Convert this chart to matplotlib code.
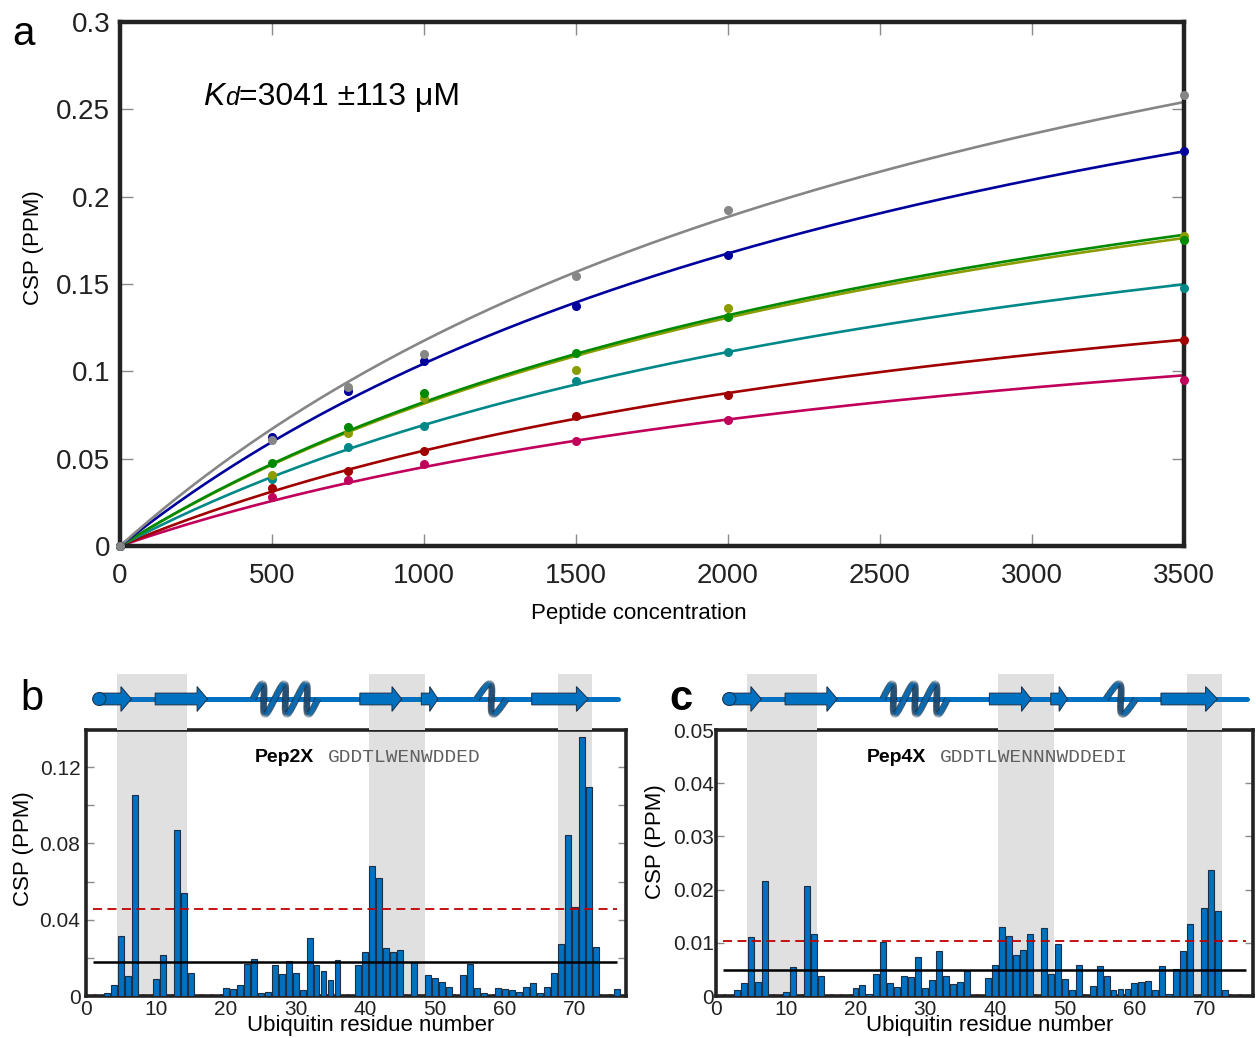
import numpy as np
import matplotlib
matplotlib.use("Agg")
import matplotlib.pyplot as plt
from matplotlib.patches import Polygon, Ellipse
from matplotlib.collections import LineCollection
import matplotlib.patheffects as pe

plt.rcParams['font.family'] = ['Liberation Sans', 'DejaVu Sans']

# ---- panel a: titration data ----
conc = [0, 500, 750, 1000, 1500, 2000, 3500]
csp_gray = [0, 0.0608, 0.0910, 0.1099, 0.1544, 0.1924, 0.2580]
csp_blue = [0, 0.0623, 0.0885, 0.1057, 0.1376, 0.1668, 0.2259]
csp_green = [0, 0.0474, 0.0683, 0.0878, 0.1105, 0.1311, 0.1753]
csp_olive = [0, 0.0407, 0.0646, 0.0847, 0.1006, 0.1362, 0.1772]
csp_teal = [0, 0.0384, 0.0566, 0.0688, 0.0946, 0.1110, 0.1479]
csp_red = [0, 0.0331, 0.0430, 0.0545, 0.0742, 0.0866, 0.1181]
csp_magenta = [0, 0.0283, 0.0379, 0.0470, 0.0602, 0.0723, 0.0952]
kd = 3041
fit_bmax = [0.1826, 0.2207, 0.280, 0.3295, 0.333, 0.4222, 0.475]
series = [csp_magenta, csp_red, csp_teal, csp_olive, csp_green, csp_blue, csp_gray]
colors = ['#c0005a', '#a00000', '#008888', '#8a9c00', '#008a00', '#00009c', '#868686']

# ---- panels b, c: CSP per residue ----
residues = list(range(1, 77))
csp_pep2x = [0, 0, 0.0015, 0.0058, 0.0317, 0.0106, 0.1056, 0, 0, 0.0088,
             0.0213, 0, 0.0871, 0.0540, 0.0120, 0, 0, 0, 0, 0.0040,
             0.0037, 0.0056, 0.0170, 0.0194, 0.0018, 0.0020, 0.0164, 0.0114, 0.0185, 0.0123,
             0.0030, 0.0305, 0.0160, 0.0132, 0.0083, 0.0190, 0, 0, 0.0165, 0.0229,
             0.0680, 0.0620, 0.0252, 0.0232, 0.0241, 0, 0.0178, 0, 0.0111, 0.0092,
             0.0074, 0.0048, 0, 0.0111, 0.0169, 0.0040, 0.0016, 0, 0.0040, 0.0035,
             0.0030, 0.0020, 0.0048, 0.0070, 0.0014, 0.0046, 0.0120, 0.0273, 0.0843, 0.0465,
             0.1356, 0.1097, 0.0259, 0, 0, 0.0037]
csp_pep4x = [0, 0, 0.0012, 0.0024, 0.0111, 0.0026, 0.0216, 0, 0, 0.0008,
             0.0055, 0, 0.0206, 0.0117, 0.0037, 0, 0, 0, 0, 0.0015,
             0.0020, 0.0003, 0.0042, 0.0101, 0.0025, 0.0017, 0.0038, 0.0036, 0.0073, 0.0015,
             0.0031, 0.0084, 0.0037, 0.0023, 0.0027, 0.0047, 0, 0, 0.0033, 0.0059,
             0.0130, 0.0112, 0.0078, 0.0086, 0.0117, 0, 0.0127, 0.0042, 0.0098, 0.0032,
             0.0012, 0.0058, 0, 0.0019, 0.0057, 0.0038, 0.0011, 0.0013, 0.0013, 0.0025,
             0.0026, 0.0028, 0.0011, 0.0057, 0.0004, 0.0051, 0.0084, 0.0136, 0, 0.0165,
             0.0236, 0.0159, 0.0012, 0, 0, 0]
mean_pep2x, cut_pep2x = 0.0180, 0.0455
mean_pep4x, cut_pep4x = 0.0048, 0.0103
shaded = [(4.5, 14.5), (40.5, 48.5), (67.5, 72.5)]

# secondary structure of ubiquitin (residue coordinates)
strands = [(1.9, 5.0, 6.5), (9.9, 15.9, 17.4), (39.2, 43.8, 45.2),
           (48.0, 49.2, 50.4), (63.8, 70.2, 71.9)]
helices = [(23.9, 33.2, 3), (55.9, 60.2, 1)]
tube = (1.9, 76.2)

BLUE = '#0070c0'
EDGE = '#1c2f45'

fig = plt.figure(figsize=(12.56, 10.38), dpi=100)
W, H = 1256.0, 1038.0


def fax(l, t, r, b):
    return fig.add_axes([l / W, 1 - b / H, (r - l) / W, (b - t) / H])


# ================= panel a =================
ax = fax(120, 22, 1184, 546)
xs = np.linspace(0, 3500, 300)
for vals, bm, c in zip(series, fit_bmax, colors):
    ax.plot(xs, bm * xs / (kd + xs), color=c, lw=1.9, zorder=2)
for vals, c in zip(series, colors):
    ax.plot(conc, vals, 'o', color=c, ms=5.5, zorder=3, clip_on=False)
ax.set_xlim(0, 3500)
ax.set_ylim(0, 0.3)
ax.set_xticks(range(0, 3501, 500))
ax.set_yticks([0, 0.05, 0.1, 0.15, 0.2, 0.25, 0.3])
ax.set_yticklabels(['0', '0.05', '0.1', '0.15', '0.2', '0.25', '0.3'])
ax.tick_params(direction='in', length=9, width=1, color='#8a8a8a',
               top=True, right=True, labelsize=20, labelcolor='#222222')
ax.tick_params(axis='x', pad=12)
ax.tick_params(axis='y', pad=7)
for s in ax.spines.values():
    s.set_linewidth(3.2)
    s.set_color('#222222')
fig.text(33 / W, 1 - 248 / H, 'CSP (PPM)', rotation=90, ha='center', va='center', fontsize=16)
fig.text(639 / W, 1 - 613 / H, 'Peptide concentration', ha='center', va='center', fontsize=16)
fig.text(12 / W, 1 - 45 / H, 'a', fontsize=29, ha='left', va='baseline')

# Kd label: italic K, smaller italic d on the same baseline, then the value
t1 = ax.text((203 - 120) / (1184 - 120), 1 - (105 - 22) / (546 - 22), 'K',
             transform=ax.transAxes, fontsize=23, style='italic', va='baseline')
desc = 23 * 0.212
t2 = ax.annotate('d', xy=(1, 0), xycoords=t1, xytext=(0.5, desc), textcoords='offset points',
                 fontsize=18, style='italic', va='baseline')
ax.annotate('=3041 \u00b1113 \u03bcM', xy=(1, 0), xycoords=(t2, t1), xytext=(0, desc),
            textcoords='offset points', fontsize=23, va='baseline')


# ================= panels b, c =================
def draw_helix(sax, x0, x1, turns, amp):
    u = np.linspace(0, 1, 120 * turns + 1)
    th = 2 * np.pi * turns * u
    L = x1 - x0
    k = L / (2 * np.pi * turns) * 1.2
    x = x0 + L * u + k * np.sin(th)
    y = amp * np.sin(th)
    pts = np.column_stack([x, y])
    segs = np.stack([pts[:-1], pts[1:]], axis=1)
    back = np.cos(th[:-1]) < 0
    for mask, c, z in [(back, '#1b4f7c', 3), (~back, BLUE, 4)]:
        lc = LineCollection(segs[mask], colors=c, linewidths=3.6, zorder=z,
                            capstyle='butt')
        lc.set_path_effects([pe.Stroke(linewidth=4.8, foreground='#1a2a3a'), pe.Normal()])
        sax.add_collection(lc)


def draw_topology(sax):
    sax.plot(tube, [0, 0], color=BLUE, lw=3.6, solid_capstyle='round', zorder=2)
    for s0, hb, tip in strands:
        poly = [(s0, -0.19), (hb, -0.19), (hb, -0.40), (tip, 0), (hb, 0.40), (hb, 0.19), (s0, 0.19)]
        sax.add_patch(Polygon(poly, closed=True, fc=BLUE, ec=EDGE, lw=0.7, zorder=5))
    sax.add_patch(Ellipse((tube[0], 0), 1.9, 0.42, fc=BLUE, ec=EDGE, lw=0.7, zorder=6))
    for h0, h1, n in helices:
        draw_helix(sax, h0, h1, n, 0.50)


def csp_panel(l, r, xmax, vals, ymax, yt, ytl, minor, mean, cut, pep, seq, seqx, letter,
              letter_w, ylab_x, ylab_y, xlab_x, ypad):
    ax = fax(l, 730, r, 996)
    sax = fax(l, 674, r, 730)
    for a0, a1 in shaded:
        ax.axvspan(a0, a1, color='#e0e0e0', lw=0, zorder=0)
        sax.axvspan(a0, a1, color='#e0e0e0', lw=0, zorder=0)
    sax.set_xlim(0, xmax)
    sax.set_ylim(-1, 0.806)
    sax.axis('off')
    draw_topology(sax)

    rr = [r_ for r_, v in zip(residues, vals) if v > 0]
    vv = [v for v in vals if v > 0]
    ax.hlines(ymax * 0.004, 1, 76, colors='#ff2020', linestyles=(0, (1, 2.5)), lw=2, zorder=1)
    ax.bar(rr, vv, width=0.85, color=BLUE, edgecolor=EDGE, linewidth=0.8, zorder=3)
    ax.hlines(mean, 1, 76, colors='black', lw=1.8, zorder=4)
    ax.hlines(cut, 1, 76, colors='#c00000', linestyles=(0, (5, 3)), lw=1.3, zorder=4)
    ax.set_xlim(0, xmax)
    ax.set_ylim(0, ymax)
    ax.set_xticks(range(0, 71, 10))
    ax.set_yticks(yt)
    ax.set_yticklabels(ytl)
    ax.set_yticks(minor, minor=True)
    ax.tick_params(which='both', direction='in', length=6, width=1, color='#8a8a8a',
                   right=True, labelsize=15, labelcolor='#222222')
    ax.tick_params(axis='x', length=0, pad=3)
    ax.tick_params(axis='y', pad=ypad)
    for s in ax.spines.values():
        s.set_linewidth(2.6)
        s.set_color('#222222')
    fig.text(ylab_x / W, 1 - ylab_y / H, 'CSP (PPM)', rotation=90, ha='center', va='center',
             fontsize=16)
    fig.text(xlab_x / W, 1 - 1026 / H, 'Ubiquitin residue number', ha='center', va='center',
             fontsize=16)
    fig.text(seqx / W, 1 - 758 / H, pep, ha='left', va='center', fontsize=14, weight='bold')
    fig.text((seqx + 73) / W, 1 - 758 / H, seq, ha='left', va='center', fontsize=14,
             family='Liberation Mono', color='#606060')
    fig.text(letter[1] / W, 1 - 710 / H, letter[0], ha='left', va='baseline', fontsize=30,
             weight=letter_w)


csp_panel(86, 626, 77.3, csp_pep2x, 0.1395, [0, 0.04, 0.08, 0.12],
          ['0', '0.04', '0.08', '0.12'], [0.02, 0.06, 0.10], mean_pep2x, cut_pep2x,
          'Pep2X', 'GDDTLWENWDDED', 255, ('b', 20), 'normal', 24, 849, 371, 4)
csp_panel(716, 1253, 77.0, csp_pep4x, 0.05, [0, 0.01, 0.02, 0.03, 0.04, 0.05],
          ['0', '0.01', '0.02', '0.03', '0.04', '0.05'], [], mean_pep4x, cut_pep4x,
          'Pep4X', 'GDDTLWENNNWDDEDI', 867, ('c', 669), 'bold', 656, 842, 990, 1.5)

fig.savefig('out.png', dpi=100)
